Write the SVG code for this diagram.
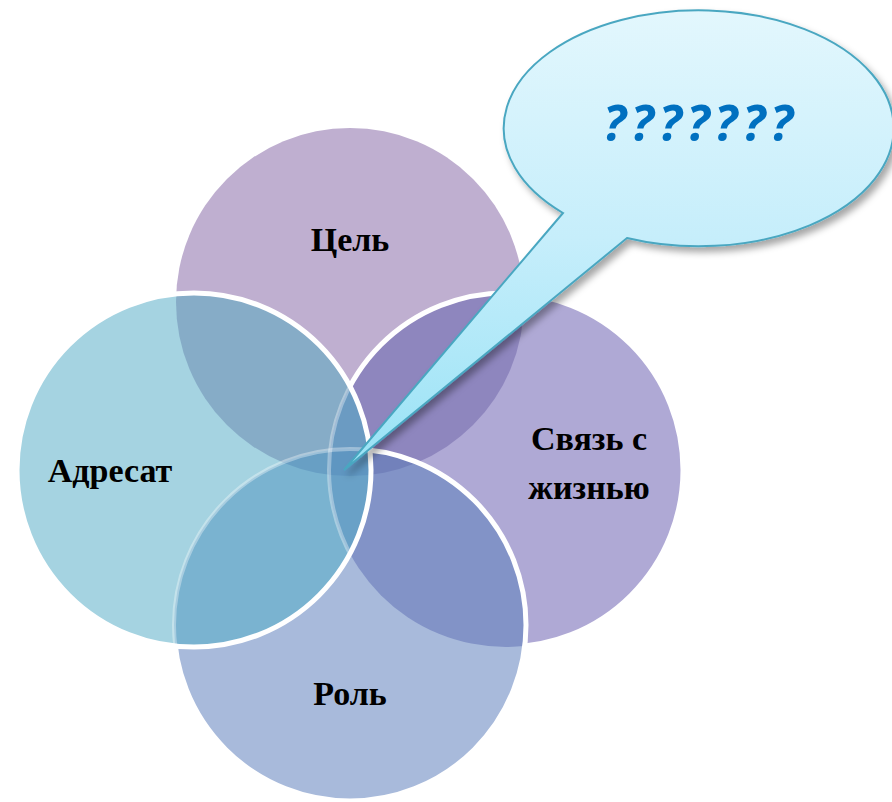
<svg xmlns="http://www.w3.org/2000/svg" width="892" height="802" viewBox="0 0 892 802">
<style>
.lbl{font-family:"Liberation Serif","Times New Roman",serif;font-weight:bold;font-size:34px;fill:#000;text-anchor:middle}
.q{font-family:"Open Sans","Liberation Sans",Arial,sans-serif;font-weight:bold;font-style:italic;font-size:50px;fill:#0070c0}
.sb{fill:none;stroke:#fff;stroke-width:5}
.sf{fill:none;stroke:#fff;stroke-width:4;stroke-opacity:0.35}
</style>
<defs>
<clipPath id="kT"><circle cx="350" cy="302" r="174"/></clipPath>
<clipPath id="kL"><circle cx="194" cy="470" r="177"/></clipPath>
<clipPath id="kR"><circle cx="506" cy="470" r="177"/></clipPath>
<clipPath id="kB"><circle cx="350" cy="625" r="176"/></clipPath>
<mask id="mNotL" maskUnits="userSpaceOnUse" x="0" y="0" width="892" height="802">
<rect width="892" height="802" fill="#fff"/><circle cx="194" cy="470" r="177" fill="#000"/>
</mask>
<mask id="mNotLB" maskUnits="userSpaceOnUse" x="0" y="0" width="892" height="802">
<rect width="892" height="802" fill="#fff"/><circle cx="194" cy="470" r="177" fill="#000"/><circle cx="350" cy="625" r="176" fill="#000"/>
</mask>
<linearGradient id="gC" gradientUnits="userSpaceOnUse" x1="0" y1="8" x2="0" y2="470">
<stop offset="0" stop-color="#e3f7fd"/>
<stop offset="0.5" stop-color="#c6eefb"/>
<stop offset="1" stop-color="#98e2f5"/>
</linearGradient>
<filter id="sh" x="-10%" y="-10%" width="125%" height="130%">
<feDropShadow dx="4" dy="5" stdDeviation="3.5" flood-color="#000" flood-opacity="0.35"/>
</filter>
</defs>

<g id="circles">
<g id="node-tsel"><circle cx="350" cy="302" r="174" fill="#bfafd0"/></g>
<g id="node-svyaz"><circle cx="506" cy="470" r="177" fill="#afa9d5"/></g>
<g id="node-rol"><circle cx="350" cy="625" r="176" fill="#a8badb"/></g>
<g id="node-adresat"><circle cx="194" cy="470" r="177" fill="#a5d3e1"/></g>
</g>

<g id="overlaps">
<g clip-path="url(#kT)">
<circle cx="194" cy="470" r="177" fill="#86acc7"/>
<circle cx="506" cy="470" r="177" fill="#8e86be"/>
</g>
<g clip-path="url(#kB)">
<circle cx="194" cy="470" r="177" fill="#7ab3d0"/>
<circle cx="506" cy="470" r="177" fill="#8293c7"/>
</g>
<g clip-path="url(#kT)"><g clip-path="url(#kL)">
<circle cx="506" cy="470" r="177" fill="#6b9bc2"/>
<circle cx="350" cy="625" r="176" fill="#689fc4"/>
</g></g>
<g clip-path="url(#kT)"><g clip-path="url(#kR)">
<circle cx="350" cy="625" r="176" fill="#7281bb"/>
</g></g>
<g clip-path="url(#kL)"><g clip-path="url(#kR)">
<circle cx="350" cy="625" r="176" fill="#69a1c7"/>
</g></g>
<g clip-path="url(#kT)"><g clip-path="url(#kL)"><g clip-path="url(#kR)">
<circle cx="350" cy="625" r="176" fill="#5f96c1"/>
</g></g></g>
</g>

<g id="outlines">
<g clip-path="url(#kL)">
<circle class="sf" cx="506" cy="470" r="177"/>
<circle class="sf" cx="350" cy="625" r="176"/>
</g>
<circle class="sb" cx="506" cy="470" r="177" mask="url(#mNotLB)"/>
<circle class="sb" cx="350" cy="625" r="176" mask="url(#mNotL)"/>
<circle class="sb" cx="194" cy="470" r="177"/>
</g>

<g id="labels">
<text class="lbl" x="350" y="251">Цель</text>
<text class="lbl" x="110" y="482">Адресат</text>
<text class="lbl" x="589" y="450">Связь с</text>
<text class="lbl" x="589" y="499">жизнью</text>
<text class="lbl" x="350" y="705">Роль</text>
</g>

<g id="callout">
<path d="M563 213 L344 470 L627 238 A195 118 0 1 0 563 213 Z" fill="url(#gC)" stroke="#4aa7c1" stroke-width="2" filter="url(#sh)"/>
<text class="q" x="603" y="141" textLength="190" lengthAdjust="spacing">???????</text>
</g>
</svg>
